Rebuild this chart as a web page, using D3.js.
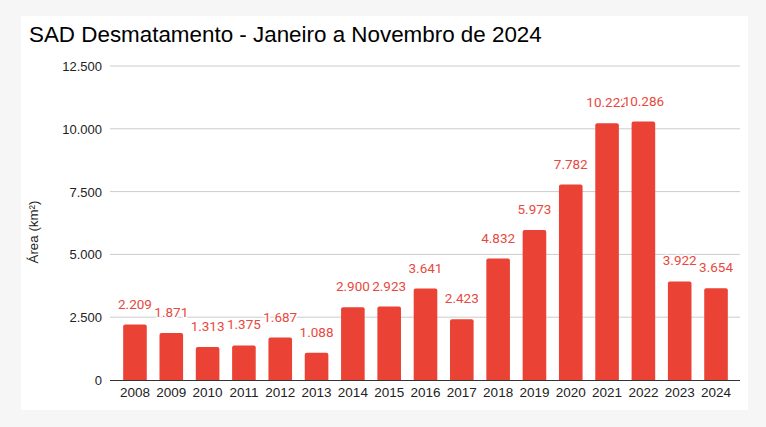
<!DOCTYPE html>
<html><head><meta charset="utf-8">
<script src="https://cdn.jsdelivr.net/npm/d3@7"></script>
<style>
html,body{margin:0;padding:0;background:#f6f6f6;}
svg{display:block;}
</style></head>
<body>
<svg id="c" width="766" height="427"></svg>
<script>
const years = ["2008","2009","2010","2011","2012","2013","2014","2015","2016","2017","2018","2019","2020","2021","2022","2023","2024"];
const values = [2209,1871,1313,1375,1687,1088,2900,2923,3641,2423,4832,5973,7782,10222,10286,3922,3654];
const yTicks = [0,2500,5000,7500,10000,12500];
const title = "SAD Desmatamento - Janeiro a Novembro de 2024";
const yTitle = "Área (km²)";

const svg = d3.select("#c");
const fmt = v => d3.format(",")(v).replace(/,/g, ".");
const AX = "'Liberation Sans', Arial, sans-serif";
const LB = "Roboto, Arial, sans-serif";

svg.append("rect").attr("x",21).attr("y",16).attr("width",727).attr("height",394).attr("fill","#fff");

const t = svg.append("text").attr("x",29).attr("y",42).attr("font-family",AX)
  .attr("font-size",23).attr("fill","#000").text(title);
const tw = t.node().getComputedTextLength();
t.attr("font-size", 23 * 513 / tw);

const x = d3.scaleBand().domain(years).range([117,734]).paddingInner(0.35).paddingOuter(0.17);
const y = d3.scaleLinear().domain([0,12500]).range([380,66]);

// gridlines
svg.append("g").selectAll("line").data(yTicks.filter(d=>d>0)).join("line")
  .attr("x1",110).attr("x2",740).attr("y1",d=>y(d)).attr("y2",d=>y(d))
  .attr("stroke","#cccccc").attr("stroke-width",1);

// y axis labels
const yAxis = d3.axisLeft(y).tickValues(yTicks).tickFormat(fmt).tickSize(0).tickPadding(0);
const gy = svg.append("g").attr("transform","translate(102,0)").call(yAxis);
gy.select(".domain").remove();
gy.selectAll("text").attr("font-family",AX).attr("font-size",13).attr("fill","#222").attr("dy","0.35em");

const yt = svg.append("text").attr("transform","translate(38,232) rotate(-90)").attr("text-anchor","middle")
  .attr("font-family",AX).attr("font-size",13).attr("fill","#222").text(yTitle);
const ytw = yt.node().getComputedTextLength();
yt.attr("font-size", Math.min(15, 13 * 63 / ytw));

// bars
const r = 2;
svg.append("g").selectAll("path").data(years).join("path")
  .attr("fill","#ea4335")
  .attr("d",(d,i)=>{
    const x0 = x(d), w = x.bandwidth(), y0 = y(values[i]), y1 = y(0);
    return `M${x0},${y1}V${y0+r}Q${x0},${y0} ${x0+r},${y0}H${x0+w-r}Q${x0+w},${y0} ${x0+w},${y0+r}V${y1}Z`;
  });

// x axis
const xAxis = d3.axisBottom(x).tickSize(0).tickPadding(7);
const gx = svg.append("g").attr("transform","translate(0,380)").call(xAxis);
gx.select(".domain").remove();
gx.selectAll("text").attr("font-family",AX).attr("font-size",13.5).attr("fill","#222");
svg.append("line").attr("x1",110).attr("x2",740).attr("y1",380.5).attr("y2",380.5).attr("stroke","#333").attr("stroke-width",1);

// value labels
svg.append("g").selectAll("text").data(years).join("text")
  .attr("x",d=>x(d)+x.bandwidth()/2).attr("y",(d,i)=>y(values[i])-16)
  .attr("text-anchor","middle").attr("font-family",LB).attr("font-size",13.5)
  .attr("fill","#e8493e").attr("stroke","#fff").attr("stroke-width",3).attr("paint-order","stroke")
  .text((d,i)=>fmt(values[i]));
</script>
</body></html>
